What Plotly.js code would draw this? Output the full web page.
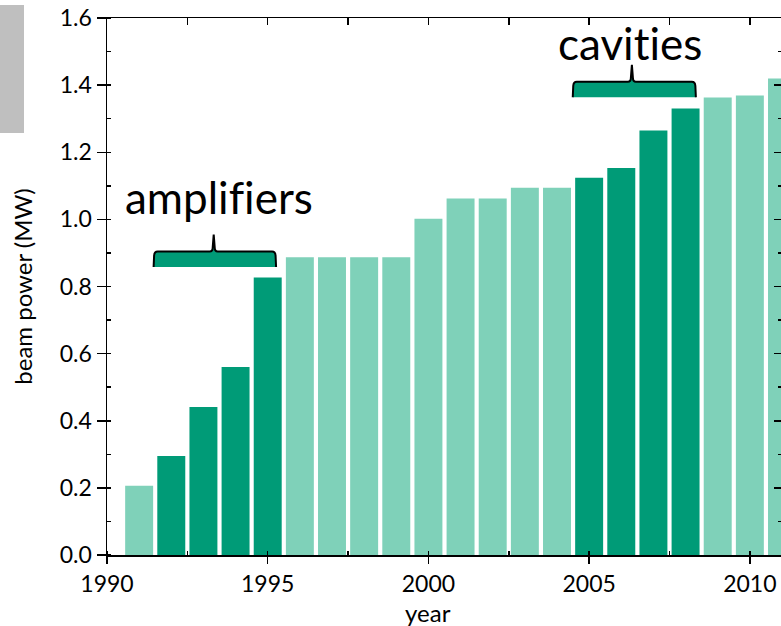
<!DOCTYPE html>
<html><head><meta charset="utf-8">
<script src="https://cdn.plot.ly/plotly-3.0.1.min.js"></script>
<style>html,body{margin:0;padding:0;overflow:hidden;background:#fff}
svg text{font-variant-ligatures:none;font-feature-settings:"liga" 0,"clig" 0,"dlig" 0;}</style>
</head><body><div id="chart" style="width:783px;height:626px"></div>
<script>
// ---- data ----
const years = [1991,1992,1993,1994,1995,1996,1997,1998,1999,2000,2001,2002,2003,2004,2005,2006,2007,2008,2009,2010,2011];
const beamPowerMW = [0.206,0.295,0.441,0.560,0.827,0.887,0.887,0.887,0.887,1.002,1.062,1.062,1.094,1.094,1.124,1.153,1.265,1.330,1.363,1.369,1.420];
const upgradeGroup = ['', 'amplifiers','amplifiers','amplifiers','amplifiers','','','','','','','','','','cavities','cavities','cavities','cavities','','',''];
const xTickYears = [1990,1995,2000,2005,2010];
const yTickValues = [0,0.2,0.4,0.6,0.8,1.0,1.2,1.4,1.6];
const groupLabels = ['amplifiers','cavities'];
const xTitle = 'year', yTitle = 'beam power (MW)';

// ---- styles / geometry ----
const DARK = '#009B77', LIGHT = '#7FD1B9';
const W = 783, H = 626, M = {l:107, r:1, t:18, b:71};
const PW = W - M.l - M.r, PH = H - M.t - M.b;
const XR = [1990, 2011], YR = [0, 1.6];
const ux = (XR[1]-XR[0]) / PW, uy = (YR[1]-YR[0]) / PH;
const FONT = 'Lato, "Open Sans", sans-serif';

// brace placement (data coords of the two annotation braces)
const braceSpec = {
  amplifiers: {x0:1991.45, x1:1995.26, xm:1993.32, yb:0.858, tx:1993.47, ty:1.066},
  cavities:   {x0:2004.49, x1:2008.32, xm:2006.33, yb:1.364, tx:2006.28, ty:1.525}
};

function bracePath(b, closed){
  const h = 15.5, n = 17, r = 4;
  const yt = b.yb + h*uy;
  const P = (x, y) => x.toFixed(4) + ',' + y.toFixed(5);
  let d = 'M' + P(b.x0, b.yb) +
    ' L' + P(b.x0 + 0.5*ux, yt - r*uy) +
    ' Q' + P(b.x0 + 0.8*ux, yt) + ' ' + P(b.x0 + r*ux, yt) +
    ' L' + P(b.xm - 4*ux, yt) +
    ' Q' + P(b.xm - 1*ux, yt) + ' ' + P(b.xm - 1*ux, yt + 4*uy) +
    ' L' + P(b.xm, yt + n*uy) +
    ' L' + P(b.xm + 1*ux, yt + 4*uy) +
    ' Q' + P(b.xm + 1*ux, yt) + ' ' + P(b.xm + 4*ux, yt) +
    ' L' + P(b.x1 - r*ux, yt) +
    ' Q' + P(b.x1 - 0.8*ux, yt) + ' ' + P(b.x1 - 0.5*ux, yt - r*uy) +
    ' L' + P(b.x1, b.yb);
  if (closed) d += ' Z';
  return d;
}

const shapes = [];
const px2paperX = px => (px - M.l) / PW;
const px2paperY = py => (H - M.b - py) / PH;
shapes.push({type:'rect', xref:'paper', yref:'paper', x0:px2paperX(0), x1:px2paperX(24), y0:px2paperY(133), y1:px2paperY(5), fillcolor:'#BFBFBF', line:{width:0}, layer:'above'});

const annotations = [];
groupLabels.forEach(g => {
  const b = braceSpec[g];
  shapes.push({type:'path', xref:'x', yref:'y', path:bracePath(b, true), fillcolor:DARK, line:{width:0}, layer:'above'});
  shapes.push({type:'path', xref:'x', yref:'y', path:bracePath(b, false), fillcolor:'rgba(0,0,0,0)', line:{color:'black', width:2}, layer:'above'});
  annotations.push({x:b.tx, y:b.ty, xref:'x', yref:'y', text:g, showarrow:false, xanchor:'center', yanchor:'middle', font:{family:FONT, size:44, color:'black'}});
});
// x axis title (placed as in the reference, slightly left of plot centre)
annotations.push({x:px2paperX(428), y:px2paperY(612), xref:'paper', yref:'paper', text:xTitle, showarrow:false, xanchor:'center', yanchor:'middle', font:{family:FONT, size:24, color:'black'}});

const barColors = upgradeGroup.map(g => g ? DARK : LIGHT);

const traces = [
  {type:'bar', x:years, y:beamPowerMW, marker:{color:barColors, line:{width:0}}, hoverinfo:'x+y', showlegend:false},
  {type:'scatter', x:[XR[0]], y:[YR[0]], xaxis:'x2', yaxis:'y2', mode:'markers', marker:{opacity:0}, hoverinfo:'skip', showlegend:false}
];

const tickFont = {family:FONT, size:23, color:'black'};
const layout = {
  width:W, height:H, margin:M, paper_bgcolor:'white', plot_bgcolor:'white',
  bargap:0.13, showlegend:false,
  xaxis:{range:XR, tickvals:xTickYears, ticktext:xTickYears.map(String), showline:true, linecolor:'black', linewidth:2,
    ticks:'outside', ticklen:7, tickwidth:1.5, tickcolor:'black', showgrid:false, zeroline:false, tickfont:tickFont,
    minor:{dtick:2.5, tick0:1990, ticks:'inside', ticklen:4, tickwidth:1.5, tickcolor:'black', showgrid:false}, fixedrange:true},
  yaxis:{range:YR, tickvals:yTickValues, ticktext:yTickValues.map(v=>v.toFixed(1)), showline:true, linecolor:'black', linewidth:1.5,
    ticks:'outside', ticklen:9, tickwidth:1.5, tickcolor:'black', showgrid:false, zeroline:false, tickfont:tickFont,
    minor:{dtick:0.1, tick0:0, ticks:'inside', ticklen:4, tickwidth:1.5, tickcolor:'black', showgrid:false},
    title:{text:yTitle, font:{family:FONT, size:24, color:'black'}, standoff:20}, fixedrange:true},
  xaxis2:{overlaying:'x', side:'top', range:XR, showline:true, linecolor:'black', linewidth:1.5, ticks:'inside', ticklen:7, tickwidth:1.5, tickcolor:'black',
    tickvals:xTickYears, showticklabels:false, showgrid:false, zeroline:false,
    minor:{dtick:2.5, tick0:1990, ticks:'inside', ticklen:7, tickwidth:1.5, tickcolor:'black', showgrid:false}, fixedrange:true},
  yaxis2:{overlaying:'y', side:'right', range:YR, showline:true, linecolor:'black', linewidth:1.5, ticks:'inside', ticklen:8, tickwidth:1.5, tickcolor:'black',
    tickvals:yTickValues, showticklabels:false, showgrid:false, zeroline:false,
    minor:{dtick:0.1, tick0:0, ticks:'inside', ticklen:4, tickwidth:1.5, tickcolor:'black', showgrid:false}, fixedrange:true},
  shapes:shapes, annotations:annotations
};

Plotly.newPlot('chart', traces, layout, {displayModeBar:false, staticPlot:true});
</script></body></html>
